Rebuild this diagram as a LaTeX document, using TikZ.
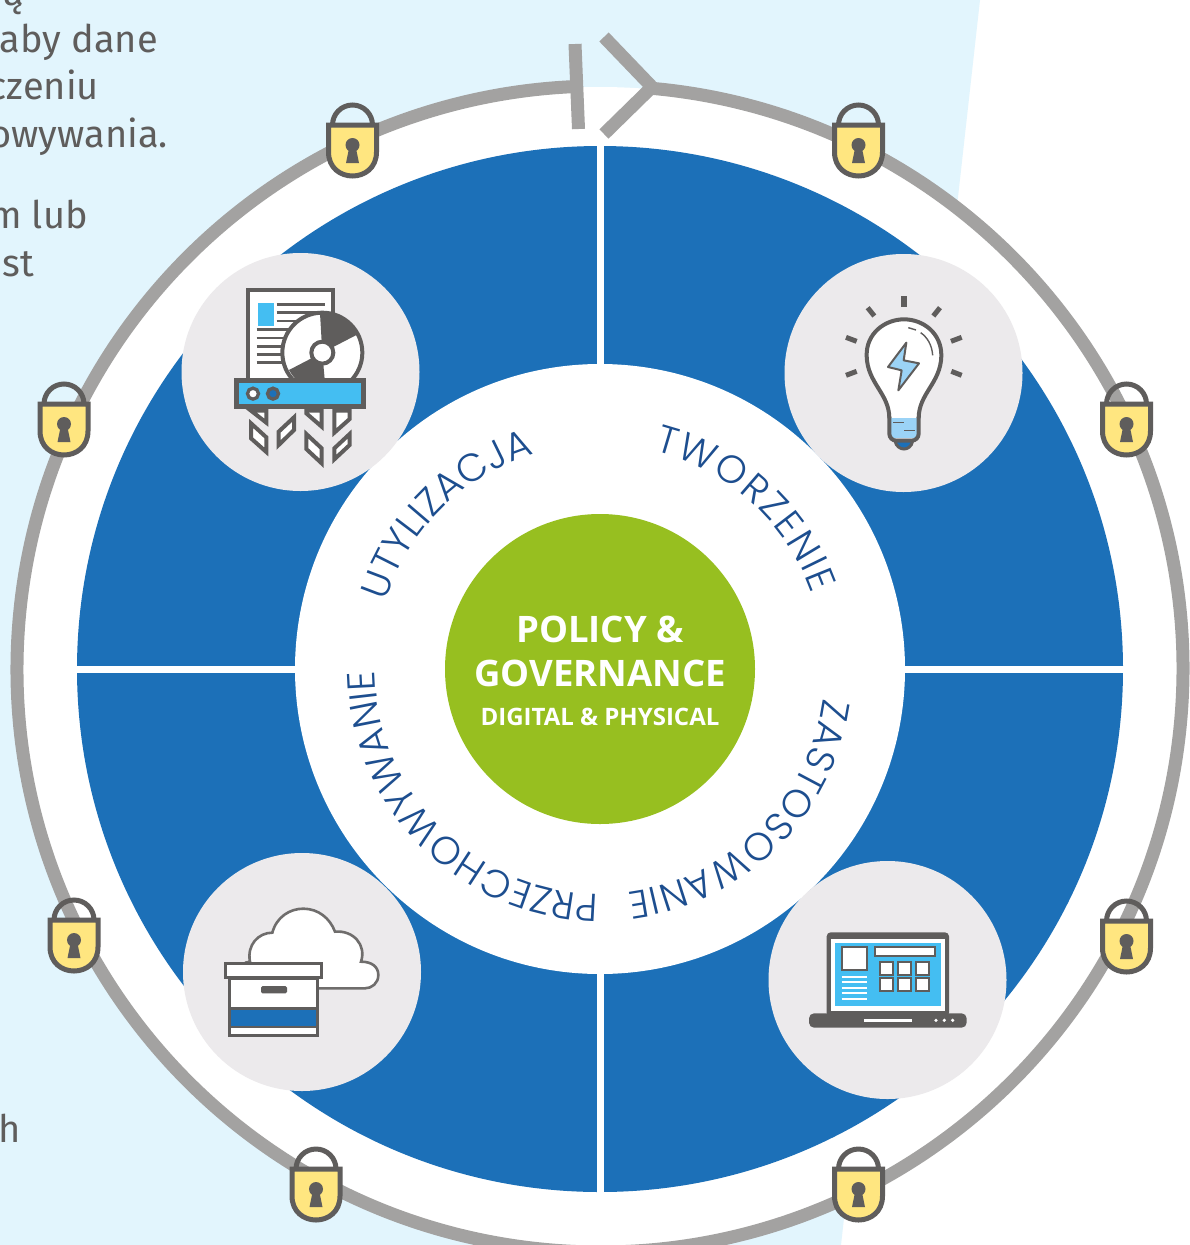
\documentclass[tikz,border=0pt]{standalone}
\usepackage{fontspec}
\usetikzlibrary{decorations.text}
\setmainfont{Fira Sans}
\newfontfamily\lf{Poppins Light}
\newfontfamily\hubfont{Open Sans}
\definecolor{bgblue}{HTML}{E2F5FD}
\definecolor{ringgray}{HTML}{A3A2A1}
\definecolor{diskblue}{HTML}{1C70B8}
\definecolor{leaf}{HTML}{97BF20}
\definecolor{iconbg}{HTML}{ECEAEC}
\definecolor{dk}{HTML}{5F5D5C}
\definecolor{sky}{HTML}{44BEF2}
\definecolor{pale}{HTML}{9BD3F6}
\definecolor{navy}{HTML}{1D4E8F}
\definecolor{lockyellow}{HTML}{FFE680}
\tikzset{
  para/.style={anchor=base east,text=dk,font=\fontsize{38}{38}\selectfont,inner sep=0pt},
  shred/.style={fill=white,draw=dk,line width=4pt,miter limit=10},
  dkline/.style={draw=dk,line width=2.7pt},
  ray/.style={draw=dk,line width=5pt},
  icon/.style={x=0.33333pt,y=-0.33333pt},
  lock/.pic={
    \draw[dk,line width=5pt] (-20,23) arc[start angle=180,end angle=0,radius=20pt];
    \draw[dk,line width=5pt,fill=lockyellow,line join=miter]
      (-24,23) -- (24,23) -- (24,50) .. controls (24,66) and (12,74) .. (0,74) .. controls (-12,74) and (-24,66) .. (-24,50) -- cycle;
    \fill[dk] (0,43) circle (7pt);
    \fill[dk] (-3,44) -- (3,44) -- (6.5,61) -- (-6.5,61) -- cycle;
  }
}
\newcommand{\arcfont}{\lf\fontsize{39}{39}\selectfont}
\begin{document}
\begin{tikzpicture}[x=1pt,y=-1pt]
\useasboundingbox (0,0) rectangle (1189,1245);
\fill[white] (0,0) rectangle (1189,1245);
\fill[bgblue] (0,0) -- (980,0) -- (841,1245) -- (0,1245) -- cycle;

\node[para] (t1) at (24,5) {ą};
\node[para] (t2) at (158,52) {aby dane};
\node[para] (t3) at (99,99) {czeniu};
\node[para] (t4) at (168,147) {owywania.};
\node[para] (t5) at (88,228) {m lub};
\node[para] (t6) at (34,276) {st};
\node[para] (t7) at (21,1142) {h};

\begin{scope}[shift={(600,669)},y=1pt]
  \fill[white] (0,0) circle (582pt);
  \draw[ringgray,line width=13pt] (84.9:583) arc[start angle=84.9,end angle=-267.7,radius=583pt];
  \fill[diskblue] (0,0) circle (523pt);
  \fill[white] (-3.5,-524) rectangle (3.5,524);
  \fill[white] (-524,-3.5) rectangle (524,3.5);
  \fill[white] (0,0) circle (305pt);
  \fill[leaf] (0,0) circle (155pt);
  \path[decorate,decoration={text along path,text={|\arcfont|TWORZENIE},text color=navy,text align={fit to path}}]
     (76:225) arc[start angle=76,end angle=19.5,radius=225pt];
  \path[decorate,decoration={text along path,text={|\arcfont|ZASTOSOWANIE},text color=navy,text align={fit to path}}]
     (-7.5:225) arc[start angle=-7.5,end angle=-83,radius=225pt];
  \path[decorate,decoration={text along path,text={|\arcfont|PRZECHOWYWANIE},text color=navy,text align={fit to path}}]
     (-90.3:225) arc[start angle=-90.3,end angle=-179.5,radius=225pt];
  \path[decorate,decoration={text along path,text={|\arcfont|UTYLIZACJA},text color=navy,text align={fit to path}}]
     (162.5:225) arc[start angle=162.5,end angle=107,radius=225pt];
\end{scope}

\draw[ringgray,line width=13pt] (575,44) -- (578.5,129);
\draw[ringgray,line width=13pt,line join=miter] (604,37) -- (652,87) -- (604,134);

\node[text=white,font=\hubfont\bfseries\fontsize{36.5}{37}\selectfont,inner sep=0pt] (c1) at (600,629) {POLICY \&};
\node[text=white,font=\hubfont\bfseries\fontsize{36.5}{37}\selectfont,inner sep=0pt] (c2) at (600,673) {GOVERNANCE};
\node[text=white,font=\hubfont\bfseries\fontsize{24}{24}\selectfont,inner sep=0pt] (c3) at (600,717) {DIGITAL \& PHYSICAL};

\fill[iconbg] (300.5,372) circle (119pt);
\fill[iconbg] (903.5,373) circle (119pt);
\fill[iconbg] (302,972) circle (119pt);
\fill[iconbg] (887.5,980) circle (119pt);

% top left icon
\begin{scope}[shift={(170,250)},icon]
  \draw[dk,fill=white,line width=4pt] (235,119) rectangle (489,395);
  \fill[sky] (265,158) rectangle (312,227);
  \foreach \yy in {163,188,213} \draw[dkline] (320,\yy) -- (465,\yy);
  \foreach \yy in {238,264,290,314,338} \draw[dkline] (260,\yy) -- (380,\yy);
  \draw[dk,fill=white,line width=4pt] (457,308) circle (40pt);
  \fill[dk] (457,308) -- (450,190) arc[start angle=93,end angle=28,radius=40pt] -- cycle;
  \fill[dk] (457,308) -- (357,360) arc[start angle=208,end angle=272,radius=40pt] -- cycle;
  \draw[dk,fill=white,line width=4pt] (457,308) circle (11pt);
  \draw[shred] (243,482) -- (289,482) -- (289,518) -- cycle;
  \draw[shred] (243,520) -- (289,562) -- (289,606) -- (243,565) -- cycle;
  \draw[shred] (326,545) -- (372,502) -- (372,540) -- (326,585) -- cycle;
  \draw[shred] (409,482) -- (455,482) -- (455,530) -- (409,490) -- cycle;
  \draw[shred] (409,552) -- (455,595) -- (455,640) -- (409,597) -- cycle;
  \draw[shred] (493,482) -- (539,482) -- (539,507) -- (493,548) -- cycle;
  \draw[shred] (493,595) -- (539,552) -- (539,585) -- (493,628) -- cycle;
  \draw[dk,fill=sky,line width=5pt] (200,391) rectangle (580,470);
  \draw[dk,fill=white,line width=3.3pt] (249,431) circle (5.5pt);
  \draw[dk,fill=diskblue,line width=3.3pt] (309,431) circle (5.5pt);
\end{scope}

% top right icon
\begin{scope}[shift={(780,250)},icon]
  \draw[dk,line width=6pt] (372,138) -- (372,170);
  \draw[ray] (263,173) -- (283,198);
  \draw[ray] (480,173) -- (460,198);
  \draw[ray] (198,262) -- (230,274);
  \draw[ray] (545,262) -- (513,274);
  \draw[ray] (198,376) -- (230,364);
  \draw[ray] (545,376) -- (514,364);
  \draw[dk,fill=diskblue,line width=3pt] (345,573) .. controls (352,605) and (392,605) .. (398,573);
  \draw[dk,fill=white,line width=4pt] (328,505) .. controls (328,430) and (262,400) .. (260,318)
     .. controls (258,250) and (315,208) .. (372,208) .. controls (430,208) and (485,250) .. (484,318)
     .. controls (482,400) and (416,430) .. (416,505);
  \fill[pale] (330,505) rectangle (414,565);
  \draw[dk,line width=4pt,rounded corners=7pt] (328,500) -- (328,572) -- (416,572) -- (416,500);
  \draw[dk,line width=1.4pt] (340,517) -- (372,517) (372,541) -- (405,541);
  \draw[dk,line width=1.4pt] (385,233) -- (408,240);
  \draw[dk,line width=1.4pt] (422,248) .. controls (442,262) and (456,285) .. (458,316);
  \draw[dk,fill=pale,line width=2pt,line join=round] (379,278) -- (324,351) -- (365,361) -- (355,421) -- (417,340) -- (371,331) -- cycle;
\end{scope}

% bottom left icon
\begin{scope}[shift={(180,850)},icon]
  \draw[draw=dk!90,fill=white,line width=2.6pt] (195,338) -- (210,335)
    .. controls (200,285) and (235,248) .. (277,248)
    .. controls (290,200) and (330,176) .. (370,176)
    .. controls (415,176) and (450,205) .. (465,245)
    .. controls (520,240) and (560,285) .. (543,335)
    .. controls (575,335) and (595,350) .. (595,375)
    .. controls (595,400) and (575,415) .. (555,415)
    -- (410,415);
  \draw[dk,fill=white,line width=2.7pt] (148,385) rectangle (412,557);
  \fill[diskblue] (153,480) rectangle (407,527);
  \draw[dk,line width=2.7pt] (148,476) -- (412,476) (148,531) -- (412,531);
  \draw[dk,fill=white,line width=2.7pt] (137,340) rectangle (425,383);
  \fill[dk,rounded corners=1.5pt] (243,408) rectangle (321,430);
\end{scope}

% bottom right icon
\begin{scope}[shift={(770,860)},icon]
  \fill[dk,rounded corners=4pt] (170,217) rectangle (537,470);
  \fill[white] (182,236) rectangle (525,452);
  \fill[sky] (195,248) rectangle (513,438);
  \fill[dk,rounded corners=5pt] (117,460) rectangle (590,503);
  \fill[white] (282,477) rectangle (425,486);
  \foreach \xx in {498,523,548} \fill[white] (\xx,481) circle (1.8pt);
  \draw[dk,fill=white,line width=2pt] (215,262) rectangle (290,330);
  \draw[dk,fill=white,line width=2pt] (315,262) rectangle (495,287);
  \foreach \xx in {350,404,458} \foreach \yy in {325,373}
    \draw[dk,fill=white,line width=2pt] (\xx-20,\yy-19) rectangle (\xx+20,\yy+19);
  \foreach \yy in {350,366,383,400,417} \draw[white,line width=2.3pt] (215,\yy) -- (291,\yy);
\end{scope}

\pic at (352.5,102) {lock};
\pic at (858.5,102) {lock};
\pic at (1126.5,381) {lock};
\pic at (1126.5,898) {lock};
\pic at (858.5,1146) {lock};
\pic at (316,1146) {lock};
\pic at (64,381) {lock};
\pic at (74,897) {lock};
\end{tikzpicture}
\end{document}
